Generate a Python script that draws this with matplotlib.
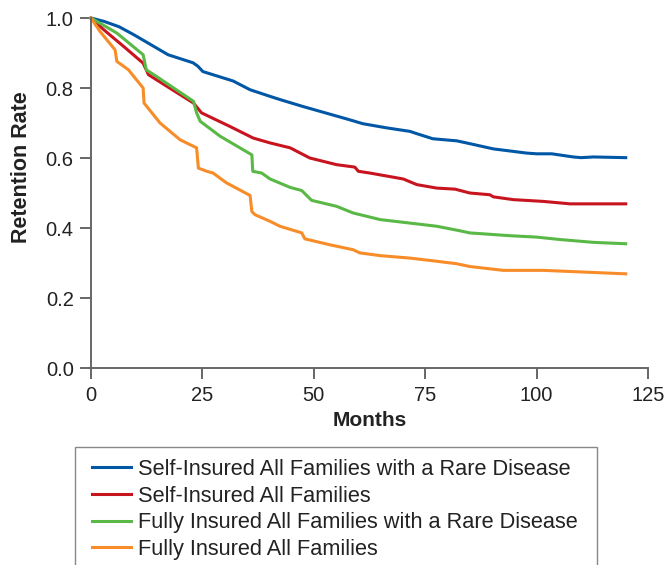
import matplotlib
matplotlib.use('Agg')
from matplotlib import pyplot as plt
from matplotlib.patches import Rectangle

plt.rcParams['font.family'] = ['Liberation Sans', 'DejaVu Sans']

LABELS = ['Self-Insured All Families with a Rare Disease',
          'Self-Insured All Families',
          'Fully Insured All Families with a Rare Disease',
          'Fully Insured All Families']
COLORS = ['#0057a5', '#c8141e', '#5ab946', '#f78c28']

# self-insured, rare disease
blue_x = [0, 3, 6.3, 9.5, 12.6, 17.3, 22.9, 24, 25.1, 31.9, 35.7, 40.2, 42.4, 47.6, 55.9, 58.1,
          61, 66.4, 71.6, 73, 76.7, 82.1, 85, 90.3, 97.8, 100, 103.4, 108.2, 110, 112.7, 120]
blue_y = [1.0, 0.99, 0.975, 0.953, 0.93, 0.895, 0.872, 0.862, 0.847, 0.82, 0.795, 0.776, 0.767, 0.747,
          0.717, 0.709, 0.698, 0.686, 0.676, 0.67, 0.655, 0.649, 0.641, 0.626, 0.614, 0.612, 0.612,
          0.603, 0.601, 0.603, 0.601]

# self-insured, all
red_x = [0, 3, 7.3, 11.7, 12.9, 17, 23, 24.8, 31.2, 36.4, 40.2, 44.7, 49.1, 55.1, 59.2, 60, 62.6,
         70.1, 73.1, 77.6, 81.7, 85, 89.5, 90.3, 94.8, 101.5, 107.5, 120]
red_y = [1.0, 0.965, 0.919, 0.871, 0.838, 0.805, 0.757, 0.729, 0.69, 0.657, 0.643, 0.629, 0.6, 0.581,
         0.574, 0.562, 0.557, 0.54, 0.524, 0.514, 0.511, 0.5, 0.495, 0.489, 0.481, 0.476, 0.469, 0.469]

# fully insured, rare disease
green_x = [0, 5.8, 11.7, 12.4, 14.7, 23, 23.7, 24.5, 29, 36.1, 36.3, 38.3, 40.2, 44.7, 47.3, 49.5,
           55.1, 58.8, 64.9, 71.6, 77.6, 82.8, 85, 94, 100, 105.3, 112.7, 120]
green_y = [1.0, 0.957, 0.895, 0.852, 0.833, 0.762, 0.729, 0.705, 0.662, 0.609, 0.562, 0.557, 0.54,
           0.516, 0.507, 0.479, 0.462, 0.443, 0.424, 0.414, 0.405, 0.392, 0.386, 0.378, 0.374, 0.367,
           0.359, 0.355]

# fully insured, all
orange_x = [0, 2, 5.4, 5.8, 8.4, 11.7, 11.9, 15.5, 20, 23.7, 24.1, 26, 27.4, 30.4, 35.7, 36.1, 36.8,
            40.2, 42.4, 47.3, 48, 53.6, 58.8, 60.3, 64.9, 71.6, 77.6, 82, 85, 92.5, 101.5, 120]
orange_y = [1.0, 0.962, 0.909, 0.876, 0.852, 0.8, 0.757, 0.7, 0.652, 0.629, 0.571, 0.562, 0.557,
            0.529, 0.493, 0.447, 0.438, 0.419, 0.405, 0.386, 0.369, 0.352, 0.338, 0.329, 0.321,
            0.314, 0.305, 0.298, 0.29, 0.279, 0.279, 0.269]

x_ticks = [0, 25, 50, 75, 100, 125]
y_ticks = [0.0, 0.2, 0.4, 0.6, 0.8, 1.0]

W, H = 665, 565
fig = plt.figure(figsize=(W / 100, H / 100), dpi=100, facecolor='w')
ax = fig.add_axes([91 / W, 1 - 368 / H, (648 - 91) / W, (368 - 18) / H])

series = [(blue_x, blue_y), (red_x, red_y), (green_x, green_y), (orange_x, orange_y)]
for (xs, ys), color, label in zip(series, COLORS, LABELS):
    ax.plot(xs, ys, color=color, lw=2.2, label=label, solid_joinstyle='round', clip_on=False)

ax.set_xlim(0, 125)
ax.set_ylim(0, 1.0)
ax.set_xticks(x_ticks)
ax.set_yticks(y_ticks)
ax.set_yticklabels(['%.1f' % v for v in y_ticks])
for side in ['top', 'right']:
    ax.spines[side].set_visible(False)
for side in ['left', 'bottom']:
    ax.spines[side].set_color('#666666')
    ax.spines[side].set_linewidth(1.4)
ax.tick_params(axis='both', direction='out', length=8, width=1.4, color='#666666',
               labelsize=14.5, labelcolor='#222222')
ax.tick_params(axis='x', pad=5)
ax.tick_params(axis='y', pad=4.5)

# axis titles placed where the reference has them
fig.text(370 / W, 1 - 421 / H, 'Months', fontsize=15, fontweight='bold', color='#222222',
         ha='center', va='center')
fig.text(22 / W, 1 - 167 / H, 'Retention Rate', fontsize=15.5, fontweight='bold', color='#222222',
         ha='center', va='center', rotation=90)

# legend box runs off the bottom of the figure
fig.patches.append(Rectangle((75 / W, -0.05), (597 - 75) / W, 0.05 + 1 - 447 / H,
                             transform=fig.transFigure, fill=False, edgecolor='#888888', lw=1.0))
fig.legend(loc='upper left', bbox_to_anchor=(92 / W, 1 - 459 / H), frameon=False,
           borderpad=0, borderaxespad=0, fontsize=15.7, handlelength=1.8, handletextpad=0.32,
           labelspacing=0.26, labelcolor='#222222')

fig.savefig('out.png', dpi=100)
